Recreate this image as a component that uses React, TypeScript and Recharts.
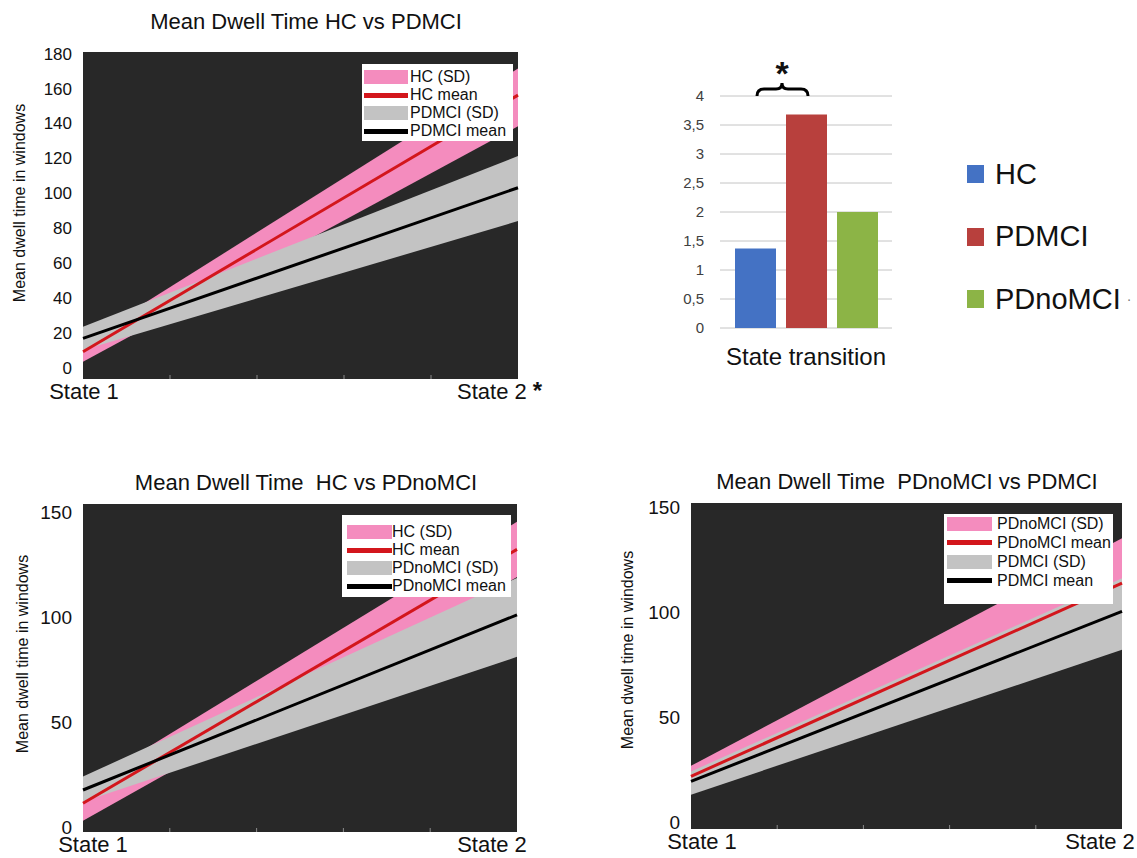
import React from "react";
import {
  ComposedChart,
  Area,
  Line,
  XAxis,
  YAxis,
  CartesianGrid,
  Legend,
  BarChart,
  Bar,
} from "recharts";

const FONT = "'Liberation Sans', Arial, sans-serif";

// the two states on the x axis
const stateX = [1, 2];
const stateLabels = ["State 1", "State 2"];
const xTicks = [1, 1.2, 1.4, 1.6, 1.8, 2];

// Mean Dwell Time HC vs PDMCI
const tlHcMean = [9.3, 156.2];
const tlHcLow = [3.6, 138.4];
const tlHcHigh = [15, 171.5];
const tlPdmciMean = [17, 103.2];
const tlPdmciLow = [10.3, 84.1];
const tlPdmciHigh = [23.6, 121.3];
const tlYTicks = [0, 20, 40, 60, 80, 100, 120, 140, 160, 180];

// Mean Dwell Time HC vs PDnoMCI
const blHcMean = [11.3, 132.2];
const blHcLow = [3, 119];
const blHcHigh = [19, 145.4];
const blPdnoMean = [17.6, 101];
const blPdnoLow = [12, 81];
const blPdnoHigh = [24, 118.6];
const blYTicks = [0, 50, 100, 150];

// Mean Dwell Time PDnoMCI vs PDMCI
const brPdnoMean = [22, 113.8];
const brPdnoLow = [17, 92.5];
const brPdnoHigh = [27, 135.1];
const brPdmciMean = [19.6, 100.3];
const brPdmciLow = [13.3, 82.1];
const brPdmciHigh = [24.3, 116.1];
const brYTicks = [0, 50, 100, 150];

// state transition bars
const groups = ["HC", "PDMCI", "PDnoMCI"];
const transitions = [1.37, 3.68, 2.0];
const groupColors = ["#4472C4", "#B8403D", "#8CB446"];
const barYTicks = [0, 0.5, 1, 1.5, 2, 2.5, 3, 3.5, 4];

const PINK = "#F48CBE";
const GRAY = "#C3C3C3";
const RED = "#D3161C";
const DARK = "#282828";

function buildRows(
  aMean: number[], aLow: number[], aHigh: number[],
  bMean: number[], bLow: number[], bHigh: number[]
) {
  return stateX.map((x, i) => ({
    x,
    aMean: aMean[i],
    aBand: [aLow[i], aHigh[i]],
    bMean: bMean[i],
    bBand: [bLow[i], bHigh[i]],
  }));
}

function StateTick(props: any) {
  const { x, y, payload, dx1, dx2, star } = props;
  const v = payload.value;
  const idx = stateX.indexOf(v);
  if (idx < 0) {
    return <line x1={x} x2={x} y1={y} y2={y - 4} stroke="#8a8a8a" strokeWidth={1} />;
  }
  if (idx === 1 && star) {
    return (
      <text x={x - 61} y={y + 20} textAnchor="start" fontSize={22} fill="#111" fontFamily={FONT}>
        {stateLabels[idx]}
        <tspan dx={6} fontWeight="bold" fontSize={24}>*</tspan>
      </text>
    );
  }
  return (
    <text x={x + (idx === 0 ? dx1 : dx2)} y={y + 20} textAnchor="middle" fontSize={22} fill="#111" fontFamily={FONT}>
      {stateLabels[idx]}
    </text>
  );
}

function YTitle({ tx, ty }: { tx: number; ty: number }) {
  return (
    <text x={tx} y={ty} transform={`rotate(-90 ${tx} ${ty})`} textAnchor="middle" fontSize={16} fill="#111" fontFamily={FONT}>
      Mean dwell time in windows
    </text>
  );
}

type Box = {
  left: number; top: number; width: number; height: number;
  padTop: number; padLeft: number; rowH: number; swatchW: number; gap: number;
};

function BandLegend({ labels, box }: { labels: string[]; box: Box }) {
  const kinds = [
    { color: PINK, h: 14 },
    { color: RED, h: 5 },
    { color: GRAY, h: 14 },
    { color: "#000", h: 5 },
  ];
  return (
    <div
      style={{
        background: "#fff", width: box.width, height: box.height, boxSizing: "border-box",
        paddingTop: box.padTop, paddingLeft: box.padLeft, fontFamily: FONT, fontSize: 16, color: "#111",
      }}
    >
      {labels.map((l, i) => (
        <div key={l} style={{ display: "flex", alignItems: "center", height: box.rowH }}>
          <div style={{ width: box.swatchW, height: kinds[i].h, background: kinds[i].color, marginRight: box.gap }} />
          <span style={{ lineHeight: 1, whiteSpace: "nowrap" }}>{l}</span>
        </div>
      ))}
    </div>
  );
}

type PanelProps = {
  left: number; top: number; width: number; height: number;
  margin: { top: number; right: number; left: number; bottom: number };
  yWidth: number; xHeight: number; domain: [number, number]; ticks: number[]; tickFont: number;
  data: any[]; labels: string[]; box: Box;
  yTitle: [number, number]; dx1: number; dx2: number; star?: boolean;
};

function DwellPanel(p: PanelProps) {
  return (
    <div style={{ position: "absolute", left: p.left, top: p.top }}>
      <ComposedChart width={p.width} height={p.height} data={p.data} margin={p.margin}>
        <CartesianGrid horizontal={false} vertical={false} fill={DARK} stroke="none" />
        <XAxis
          type="number" dataKey="x" domain={[1, 2]} ticks={xTicks} interval={0}
          axisLine={false} tickLine={false} tickSize={0} tickMargin={0} height={p.xHeight}
          tick={<StateTick dx1={p.dx1} dx2={p.dx2} star={p.star} />}
        />
        <YAxis
          type="number" domain={p.domain} allowDataOverflow ticks={p.ticks} interval={0}
          axisLine={false} tickLine={false} tickSize={0} tickMargin={11} width={p.yWidth}
          tick={{ fontSize: p.tickFont, fill: "#111", fontFamily: FONT }}
          label={<YTitle tx={p.yTitle[0]} ty={p.yTitle[1]} />}
        />
        <Area type="linear" dataKey="aBand" fill={PINK} fillOpacity={1} stroke="none" isAnimationActive={false} activeDot={false} />
        <Area type="linear" dataKey="bBand" fill={GRAY} fillOpacity={1} stroke="none" isAnimationActive={false} activeDot={false} />
        <Line type="linear" dataKey="aMean" stroke={RED} strokeWidth={3} dot={false} activeDot={false} isAnimationActive={false} />
        <Line type="linear" dataKey="bMean" stroke="#000" strokeWidth={3} dot={false} activeDot={false} isAnimationActive={false} />
        <Legend
          layout="vertical" align="center" verticalAlign="middle"
          wrapperStyle={{ left: p.box.left, top: p.box.top, width: p.box.width, height: p.box.height }}
          content={() => <BandLegend labels={p.labels} box={p.box} />}
        />
      </ComposedChart>
    </div>
  );
}

function TransitionTick(props: any) {
  const { x, y, payload } = props;
  return (
    <text x={x} y={y + 37} textAnchor="middle" fontSize={24} fill="#111" fontFamily={FONT}>
      {payload.value}
    </text>
  );
}

function GroupLegend() {
  return (
    <div style={{ fontFamily: FONT, color: "#111" }}>
      {groups.map((g, i) => (
        <div key={g} style={{ display: "flex", alignItems: "center", height: 62.5 }}>
          <div style={{ width: 17, height: 18, background: groupColors[i], marginRight: 11 }} />
          <span style={{ fontSize: 29, lineHeight: 1 }}>{g}</span>
          {i === 2 && <span style={{ fontSize: 14, color: "#777", marginLeft: 6 }}>·</span>}
        </div>
      ))}
    </div>
  );
}

const Title = ({ cx, cy, text }: { cx: number; cy: number; text: string }) => (
  <div
    style={{
      position: "absolute", left: cx - 220, top: cy - 11, width: 440, textAlign: "center",
      fontFamily: FONT, fontSize: 22, lineHeight: "22px", color: "#111", whiteSpace: "pre",
    }}
  >
    {text}
  </div>
);

export default function App() {
  const tlData = buildRows(tlHcMean, tlHcLow, tlHcHigh, tlPdmciMean, tlPdmciLow, tlPdmciHigh);
  const blData = buildRows(blHcMean, blHcLow, blHcHigh, blPdnoMean, blPdnoLow, blPdnoHigh);
  const brData = buildRows(brPdnoMean, brPdnoLow, brPdnoHigh, brPdmciMean, brPdmciLow, brPdmciHigh);
  const barRow = [
    groups.reduce((row: any, g, i) => ({ ...row, [g]: transitions[i] }), { name: "State transition" }),
  ];

  return (
    <div style={{ position: "absolute", left: 0, top: 0, width: 1137, height: 858, background: "#fff", overflow: "hidden" }}>
      <Title cx={306} cy={22} text="Mean Dwell Time HC vs PDMCI" />
      <Title cx={306} cy={483} text="Mean Dwell Time  HC vs PDnoMCI" />
      <Title cx={907} cy={482} text="Mean Dwell Time  PDnoMCI vs PDMCI" />

      <DwellPanel
        left={0} top={0} width={560} height={420}
        margin={{ top: 52, right: 42, left: 0, bottom: 0 }}
        yWidth={83} xHeight={41} domain={[-6.3, 180.9]} ticks={tlYTicks} tickFont={17}
        data={tlData} labels={["HC (SD)", "HC mean", "PDMCI (SD)", "PDMCI mean"]}
        box={{ left: 362, top: 64, width: 151, height: 77, padTop: 4, padLeft: 2, rowH: 18, swatchW: 44, gap: 2 }}
        yTitle={[25, 203]} dx1={1} dx2={-25} star
      />

      <DwellPanel
        left={0} top={440} width={560} height={418}
        margin={{ top: 64, right: 43, left: 0, bottom: 0 }}
        yWidth={83} xHeight={26} domain={[-2.4, 153.8]} ticks={blYTicks} tickFont={19}
        data={blData} labels={["HC (SD)", "HC mean", "PDnoMCI (SD)", "PDnoMCI mean"]}
        box={{ left: 342, top: 75, width: 169, height: 82, padTop: 8, padLeft: 5, rowH: 18, swatchW: 45, gap: 0 }}
        yTitle={[28, 214]} dx1={10} dx2={-25}
      />

      <DwellPanel
        left={600} top={440} width={537} height={418}
        margin={{ top: 63, right: 15, left: 0, bottom: 0 }}
        yWidth={91} xHeight={29} domain={[-3, 151.8]} ticks={brYTicks} tickFont={19}
        data={brData} labels={["PDnoMCI (SD)", "PDnoMCI mean", "PDMCI (SD)", "PDMCI mean"]}
        box={{ left: 344, top: 74, width: 169, height: 90, padTop: 0, padLeft: 3, rowH: 19, swatchW: 45, gap: 5 }}
        yTitle={[33, 210]} dx1={11} dx2={-22}
      />

      <div style={{ position: "absolute", left: 640, top: 50 }}>
        <BarChart width={497} height={330} data={barRow} margin={{ top: 46, right: 245, left: 0, bottom: 0 }} barSize={41} barGap={10}>
          <CartesianGrid vertical={false} stroke="#c4c4c4" />
          <XAxis dataKey="name" axisLine={false} tickLine={false} tickSize={0} tickMargin={0} height={52} tick={<TransitionTick />} />
          <YAxis
            width={80} domain={[0, 4]} ticks={barYTicks} interval={0}
            tickFormatter={(v: number) => String(v).replace(".", ",")}
            axisLine={false} tickLine={false} tickSize={0} tickMargin={16}
            tick={{ fontSize: 15, fill: "#404040", fontFamily: FONT }}
          />
          {groups.map((g, i) => (
            <Bar key={g} dataKey={g} fill={groupColors[i]} isAnimationActive={false} />
          ))}
          <Legend
            layout="vertical" align="center" verticalAlign="middle"
            wrapperStyle={{ left: 327, top: 93, width: 170 }}
            content={() => <GroupLegend />}
          />
        </BarChart>
      </div>

      <svg style={{ position: "absolute", left: 0, top: 0 }} width={1137} height={120}>
        <path
          d="M757 96 Q757 89 764 89 L776 89 Q782 89 782 83 Q782 89 788 89 L801 89 Q808 89 808 96"
          stroke="#000" strokeWidth={3} fill="none"
        />
        <text x={782} y={85} textAnchor="middle" fontSize={34} fontWeight="bold" fontFamily={FONT} fill="#111">*</text>
      </svg>
    </div>
  );
}
